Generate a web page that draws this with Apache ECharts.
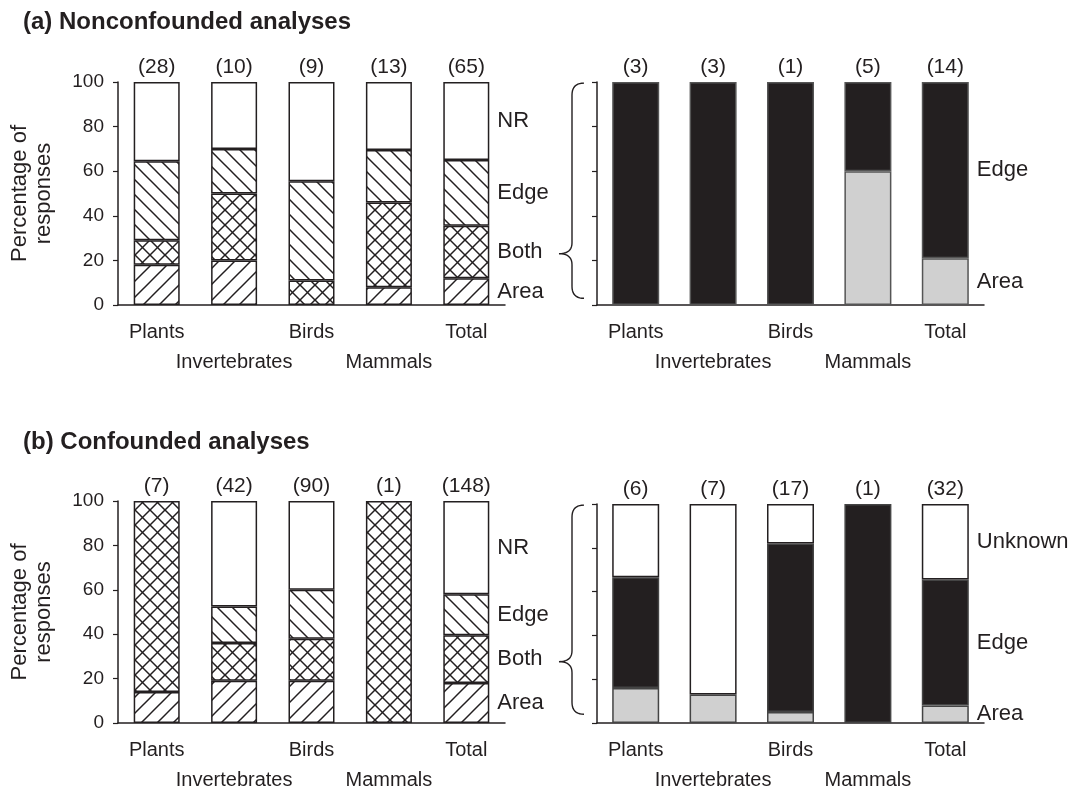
<!DOCTYPE html>
<html><head><meta charset="utf-8">
<script src="https://cdn.jsdelivr.net/npm/echarts@6/dist/echarts.min.js"></script>
<style>html,body{margin:0;padding:0;background:#fff}#c{width:1081px;height:795px}</style>
</head><body><div id="c"></div>
<script>
// ---------- data ----------
const categories = ['Plants', 'Invertebrates', 'Birds', 'Mammals', 'Total'];
const yTicks = [0, 20, 40, 60, 80, 100];

// (a) Nonconfounded analyses – left panel
const aCounts = ['(28)', '(10)', '(9)', '(13)', '(65)'];
const aArea = [18, 20, 0, 8, 12];
const aBoth = [11, 30, 11, 38, 23.5];
const aEdge = [35.5, 20, 44.5, 23.5, 29.5];
const aNR   = [35.5, 30, 44.5, 30.5, 35];

// (a) right panel
const aRCounts = ['(3)', '(3)', '(1)', '(5)', '(14)'];
const aRArea = [0, 0, 0, 60, 21];
const aREdge = [100, 100, 100, 40, 79];

// (b) Confounded analyses – left panel
const bCounts = ['(7)', '(42)', '(90)', '(1)', '(148)'];
const bArea = [14, 19, 19, 0, 18];
const bBoth = [86, 17, 19, 100, 21.5];
const bEdge = [0, 16.5, 22, 0, 18.5];
const bNR   = [0, 47.5, 40, 0, 42];

// (b) right panel
const bRCounts = ['(6)', '(7)', '(17)', '(1)', '(32)'];
const bRArea    = [16, 13, 5, 0, 8];
const bREdge    = [50.5, 0, 77, 100, 57.5];
const bRUnknown = [33.5, 87, 18, 0, 34.5];

// ---------- styling ----------
const INK = '#231f20';
const GREY = '#d0d0d0';
const FONT = '"Liberation Sans", Arial, sans-serif';

function hatch(kind, s) {
  const c = document.createElement('canvas');
  c.width = s; c.height = s;
  const g = c.getContext('2d');
  g.fillStyle = '#fff'; g.fillRect(0, 0, s, s);
  g.strokeStyle = INK; g.lineWidth = 1.5;
  const fwd = () => { for (const k of [-s, 0, s]) { g.beginPath(); g.moveTo(k - 1, s + 1); g.lineTo(k + s + 1, -1); g.stroke(); } };
  const back = () => { for (const k of [-s, 0, s]) { g.beginPath(); g.moveTo(k - 1, -1); g.lineTo(k + s + 1, s + 1); g.stroke(); } };
  if (kind === 'fwd') fwd();
  if (kind === 'back') back();
  if (kind === 'cross') { fwd(); back(); }
  return { image: c, repeat: 'repeat' };
}
const P_AREA = hatch('fwd', 16);
const P_EDGE = hatch('back', 15);
const P_BOTH = hatch('cross', 15);

const grids = [
  { left: 118, top: 82, width: 387, height: 223 },
  { left: 597, top: 82, width: 387, height: 223 },
  { left: 118, top: 501, width: 387, height: 223 },
  { left: 597, top: 504, width: 387, height: 223 }
];
const countSets = [aCounts, aRCounts, bCounts, bRCounts];

const xAxes = [];
grids.forEach((g, i) => {
  xAxes.push({
    type: 'category', gridIndex: i, data: categories, position: 'bottom',
    axisLine: { lineStyle: { color: INK, width: 1.5 } },
    axisTick: { alignWithLabel: true, length: 5, lineStyle: { color: INK, width: 1.2 } },
    axisLabel: {
      interval: 0, fontSize: 20, fontFamily: FONT, color: INK, margin: 12, lineHeight: 30,
      formatter: (v, idx) => (idx % 2 ? '\n' + v : v)
    }
  });
});
grids.forEach((g, i) => {
  xAxes.push({
    type: 'category', gridIndex: i, data: countSets[i], position: 'top',
    axisLine: { show: false }, axisTick: { show: false },
    axisLabel: { interval: 0, fontSize: 21, fontFamily: FONT, color: INK, margin: 4 }
  });
});

const yAxes = grids.map((g, i) => ({
  type: 'value', gridIndex: i, min: 0, max: 100, interval: 20,
  splitLine: { show: false },
  axisLine: { show: true, lineStyle: { color: INK, width: 1.5 } },
  axisTick: { show: true, length: 5, lineStyle: { color: INK, width: 1.2 } },
  axisLabel: { show: i % 2 === 0, fontSize: 19, fontFamily: FONT, color: INK, margin: 14 },
  name: i % 2 === 0 ? 'Percentage of\nresponses' : '',
  nameLocation: 'middle', nameRotate: 90, nameGap: 62,
  nameTextStyle: { fontSize: 22, fontFamily: FONT, color: INK, lineHeight: 24 }
}));

function seg(gi, data, fill, border, text) {
  const last = data.length - 1;
  return {
    type: 'bar', stack: 's' + gi, xAxisIndex: gi, yAxisIndex: gi,
    barWidth: gi % 2 ? 47 : 46,
    itemStyle: { color: fill, borderColor: border, borderWidth: 1.5 },
    label: { show: false, position: 'right', distance: 8, formatter: text,
             color: INK, fontSize: 22, fontFamily: FONT },
    data: data.map((v, i) => (i === last ? { value: v, label: { show: true } } : (v === 0 ? '-' : v))),
    animation: false
  };
}

const series = [
  seg(0, aArea, P_AREA, INK, 'Area'),
  seg(0, aBoth, P_BOTH, INK, 'Both'),
  seg(0, aEdge, P_EDGE, INK, 'Edge'),
  seg(0, aNR, '#ffffff', INK, 'NR'),
  seg(1, aRArea, GREY, '#555555', 'Area'),
  seg(1, aREdge, INK, '#555555', 'Edge'),
  seg(2, bArea, P_AREA, INK, 'Area'),
  seg(2, bBoth, P_BOTH, INK, 'Both'),
  seg(2, bEdge, P_EDGE, INK, 'Edge'),
  seg(2, bNR, '#ffffff', INK, 'NR'),
  seg(3, bRArea, GREY, '#444444', 'Area'),
  seg(3, bREdge, INK, '#444444', 'Edge'),
  seg(3, bRUnknown, '#ffffff', INK, 'Unknown')
];

const chart = echarts.init(document.getElementById('c'), null, { renderer: 'canvas' });
chart.setOption({
  backgroundColor: '#fff',
  animation: false,
  title: [
    { text: '(a) Nonconfounded analyses', left: 18, top: 5,
      textStyle: { fontSize: 24, fontWeight: 'bold', color: INK, fontFamily: FONT } },
    { text: '(b) Confounded analyses', left: 18, top: 425,
      textStyle: { fontSize: 24, fontWeight: 'bold', color: INK, fontFamily: FONT } }
  ],
  grid: grids,
  xAxis: xAxes,
  yAxis: yAxes,
  series: series
});

// curly braces linking left-panel categories to right panels (drawn as sampled polylines)
function quad(p0, c, p1, n) {
  const pts = [];
  for (let k = 1; k <= n; k++) {
    const t = k / n, u = 1 - t;
    pts.push([u * u * p0[0] + 2 * u * t * c[0] + t * t * p1[0],
              u * u * p0[1] + 2 * u * t * c[1] + t * t * p1[1]]);
  }
  return pts;
}
function brace(yAxisIndex, topVal, botVal, cuspVal) {
  const yt = chart.convertToPixel({ yAxisIndex }, topVal);
  const yb = chart.convertToPixel({ yAxisIndex }, botVal);
  const yc = chart.convertToPixel({ yAxisIndex }, cuspVal);
  const gx = grids[yAxisIndex].left;
  const x0 = gx - 38, x1 = gx - 25, x2 = gx - 13;
  let pts = [[x2, yt]];
  pts = pts.concat(quad([x2, yt], [x1, yt], [x1, yt + 12], 10));
  pts.push([x1, yc - 11]);
  pts = pts.concat(quad([x1, yc - 11], [x1, yc], [x0, yc], 10));
  pts = pts.concat(quad([x0, yc], [x1, yc], [x1, yc + 11], 10));
  pts.push([x1, yb - 12]);
  pts = pts.concat(quad([x1, yb - 12], [x1, yb], [x2, yb], 10));
  return { type: 'polyline', shape: { points: pts }, style: { fill: null, stroke: INK, lineWidth: 1.4 } };
}
chart.setOption({ graphic: [brace(1, 99.5, 3, 23), brace(3, 99.5, 4, 28)] });
</script>
</body></html>
